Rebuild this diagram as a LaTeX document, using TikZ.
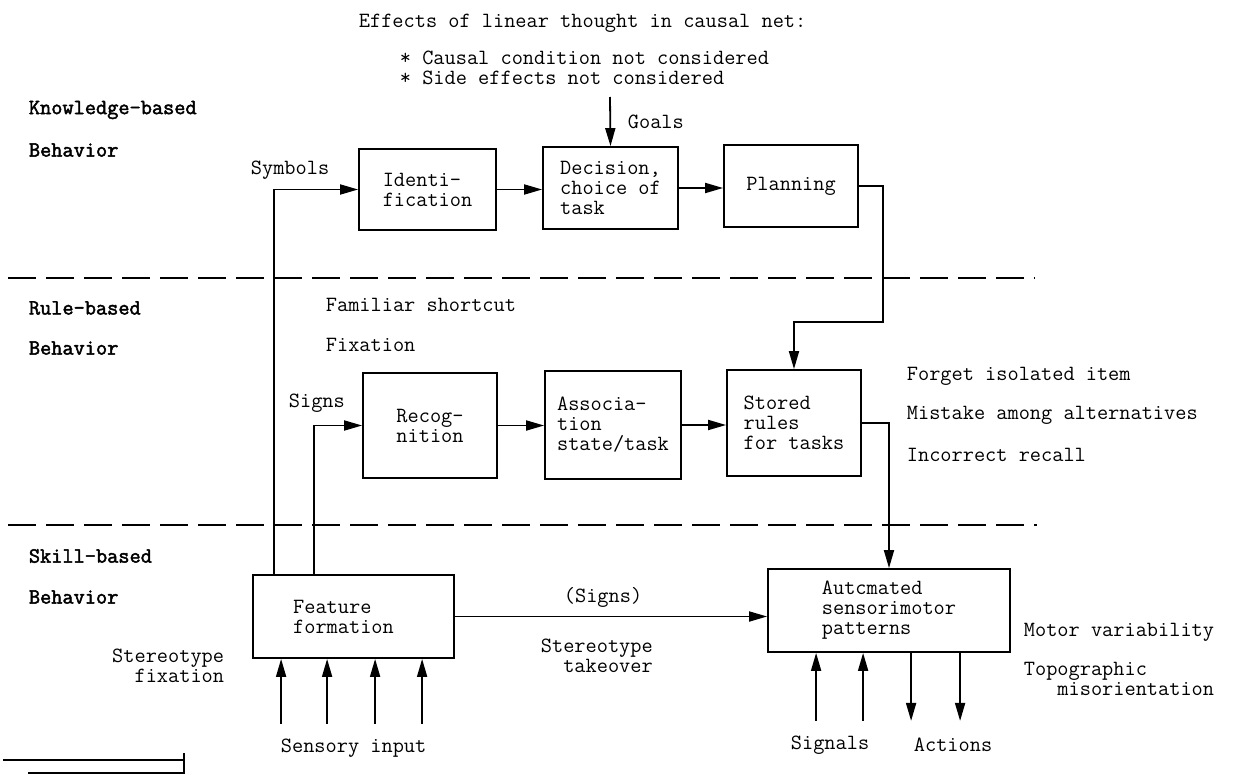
\documentclass[tikz,border=0pt]{standalone}
\usepackage{fontspec}
\usetikzlibrary{arrows.meta,calc}

\newfontfamily\tierfont{Latin Modern Mono}[FakeBold=2.2]
\newcommand\mono{\fontsize{21.8}{20}\selectfont\ttfamily}

\begin{document}
\begin{tikzpicture}[x=1bp, y=-1bp, line width=1.8bp,
    every node/.style={font=\mono, inner sep=0pt},
    box/.style 2 args={draw, align=left, minimum width=#1, minimum height=#2},
    arr/.style={-{Triangle[length=18bp,width=10bp]}},
    level/.style={dash pattern=on 28bp off 10bp, line width=2.2bp},
    lbl/.style={anchor=west, align=left},
    tier/.style={anchor=west, font=\fontsize{21.8}{20}\selectfont\tierfont}]
            \useasboundingbox (0,0) rectangle (1235,775);
            % levels of behaviour
            \draw[level] (8,278) -- (1035,278);
            \draw[level] (8,525) -- (1037,525);
            \node[tier] (kb)  at (28,110) {Knowledge-based};
            \node[tier] (kbb) at (28,150) {Behavior};
            \node[tier] (rb)  at (28,308) {Rule-based};
            \node[tier] (rbb) at (28,348) {Behavior};
            \node[tier] (sb)  at (28,556) {Skill-based};
            \node[tier] (sbb) at (28,597) {Behavior};
            % boxes
            \node[box={137bp}{81bp}]  (ident)   at (427.5,189.5) {Identi-\\fication};
            \node[box={135bp}{82bp}]  (decide)  at (610.5,188)   {Decision,\\choice of\\task};
            \node[box={134bp}{82bp}]  (plan)    at (791,186)     {Planning};
            \node[box={134bp}{105bp}] (recog)   at (430,425.5)   {Recog-\\nition};
            \node[box={136bp}{108bp}] (assoc)   at (613,425)     {Associa-\\tion\\state/task};
            \node[box={134bp}{106bp}] (stored)  at (794,423)     {Stored\\rules\\for tasks};
            \node[box={201bp}{83bp}]  (feature) at (353.5,616.5) {Feature\\formation\hspace*{20bp}};
            \node[box={242bp}{83bp}]  (auto)    at (889,610.5)   {Autcmated\\sensorimotor\hspace*{16bp}\\patterns};
            % labels
            \node[lbl] (title)   at (358,23)  {Effects of linear thought in causal net:};
            \node[lbl] (effects) at (399,68)  {* Causal condition not considered\\* Side effects not considered};
            \node[lbl] (goals)   at (627,122) {Goals};
            \node[lbl] (symb)    at (250,170) {Symbols};
            \node[lbl] (short)   at (325,305) {Familiar shortcut};
            \node[lbl] (fix)     at (325,345) {Fixation};
            \node[lbl] (signs)   at (288,403) {Signs};
            \node[lbl] (forget)  at (906,376) {Forget isolated item};
            \node[lbl] (mistake) at (906,415) {Mistake among alternatives};
            \node[lbl] (recall)  at (906,455) {Incorrect recall};
            \node[lbl] (psigns)  at (563,597) {(Signs)};
            \node[lbl] (takeo)   at (540,656) {Stereotype\\\phantom{St}takeover};
            \node[anchor=east, align=right] (sfix) at (225,666) {Stereotype\\fixation};
            \node[lbl] (motor)   at (1023,632) {Motor variability};
            \node[lbl] (topo)    at (1023,681) {Topographic\\\phantom{Top}misorientation};
            \node[lbl] (sens)    at (280,748) {Sensory input};
            \node[lbl] (sigl)    at (790,745) {Signals};
            \node[lbl] (actl)    at (913,745) {Actions};
            % flow
            \coordinate (goalin) at (610,97);
            \coordinate (pbend) at (883,322);
            \draw[arr] (goalin) -- (decide.north);
            \draw[arr] (ident.east) -- (ident.east -| decide.west);
            \draw[arr] (decide.east) -- (decide.east -| plan.west);
            \draw[arr] (plan.east) -| (pbend) -| (stored.north);
            \draw[arr] (recog.east) -- (recog.east -| assoc.west);
            \draw[arr] (assoc.east) -- (assoc.east -| stored.west);
            \draw[arr] (stored.east) -| (auto.north);
            \draw[arr] ([xshift=22bp]feature.north west) |- (ident.west);
            \draw[arr] ([xshift=62bp]feature.north west) |- (recog.west);
            \draw[arr] (feature.east) -- (feature.east -| auto.west);
            % inputs and outputs
            \foreach \dx in {29,75,123,170} {
                \coordinate (in\dx) at ($(feature.south west)+(\dx,65)$);
                \draw[arr] (in\dx) -- (in\dx |- feature.south);
            }
            \foreach \dx in {49,96} {
                \coordinate (sig\dx) at ($(auto.south west)+(\dx,68)$);
                \draw[arr] (sig\dx) -- (sig\dx |- auto.south);
            }
            \foreach \dx in {144,193} {
                \coordinate (act\dx) at ($(auto.south west)+(\dx,68)$);
                \draw[arr] (act\dx |- auto.south) -- (act\dx);
            }
            % rule at the foot
            \draw[line width=1.4bp] (3,760) -- (184,760) (184,753) -- (184,774) (28,773) -- (184,773);
\end{tikzpicture}
\end{document}
